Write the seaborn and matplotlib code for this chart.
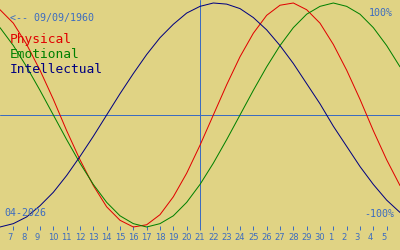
import matplotlib
matplotlib.use("Agg")
import matplotlib.pyplot as plt
from matplotlib.transforms import ScaledTranslation
import seaborn as sns
import pandas as pd

# ---- data ----
day_labels = ["7", "8", "9", "10", "11", "12", "13", "14", "15", "16", "17", "18",
              "19", "20", "21", "22", "23", "24", "25", "26", "27", "28", "29", "30",
              "1", "2", "3", "4", "5"]
physical = [0.94, 0.82, 0.63, 0.40, 0.14, -0.14, -0.40, -0.63, -0.82, -0.94, -1.00,
            -0.98, -0.89, -0.73, -0.52, -0.27, 0.00, 0.27, 0.52, 0.73, 0.89, 0.98,
            1.00, 0.94, 0.82, 0.63, 0.40, 0.14, -0.14, -0.40, -0.63]
emotional = [0.78, 0.62, 0.43, 0.22, 0.00, -0.22, -0.43, -0.62, -0.78, -0.90, -0.97,
             -1.00, -0.97, -0.90, -0.78, -0.62, -0.43, -0.22, 0.00, 0.22, 0.43, 0.62,
             0.78, 0.90, 0.97, 1.00, 0.97, 0.90, 0.78, 0.62, 0.43]
intellectual = [-1.00, -0.97, -0.91, -0.81, -0.69, -0.54, -0.37, -0.19, 0.00, 0.19,
                0.37, 0.54, 0.69, 0.81, 0.91, 0.97, 1.00, 0.99, 0.95, 0.87, 0.76,
                0.62, 0.46, 0.28, 0.10, -0.10, -0.28, -0.46, -0.62, -0.76, -0.87]
series_names = ["Physical", "Emotional", "Intellectual"]
today_label = "21"
birth_text = "<-- 09/09/1960"
month_text = "04-2026"
top_text = "100%"
bottom_text = "-100%"

# ---- style ----
BG = "#e0d384"
BLUE = "#3c6cc0"
COLORS = {"Physical": "#e00000", "Emotional": "#008000", "Intellectual": "#000080"}
PX = 72 / 100  # one pixel in points at dpi 100

sns.set_style("white", {"axes.facecolor": BG, "figure.facecolor": BG})
plt.rcParams["font.family"] = ["DejaVu Sans Mono", "DejaVu Sans"]

values = {"Physical": physical, "Emotional": emotional, "Intellectual": intellectual}
rows = []
for name in series_names:
    for i, v in enumerate(values[name]):
        rows.append({"day": i, "value": v, "series": name})
df = pd.DataFrame(rows)

W, H = 400, 250
fig = plt.figure(figsize=(4, 2.5), dpi=100)
bottom_px = 227.5
ax = fig.add_axes([0, 1 - bottom_px / H, 1, bottom_px / H])

# center line at pixel 115, amplitude 112 px
ax.set_ylim(-(bottom_px - 115) / 112, 115 / 112)
ax.set_xlim(0, len(physical) - 1)

ax.axhline(0, color=BLUE, lw=PX, zorder=1)
ticks = list(range(1, len(day_labels) + 1))
today_pos = ticks[day_labels.index(today_label)]
ax.axvline(today_pos, color=BLUE, lw=PX, zorder=1)

sns.lineplot(data=df, x="day", y="value", hue="series", palette=COLORS,
             hue_order=series_names, legend=False, lw=1.0 * PX, ax=ax,
             estimator=None, sort=False)
for ln in ax.get_lines():
    ln.set_clip_on(False)

for s in ax.spines.values():
    s.set_visible(False)
ax.set_xlabel("")
ax.set_ylabel("")
ax.set_yticks([])
ax.set_xticks(ticks, day_labels)
ax.tick_params(axis="x", direction="inout", length=5 * PX, width=PX, color=BLUE,
               labelcolor=BLUE, labelsize=6, pad=2.4, bottom=True)
for lbl in ax.get_xticklabels():
    lbl.set_fontfamily("DejaVu Sans")
    if len(lbl.get_text()) == 1:
        lbl.set_transform(lbl.get_transform() + ScaledTranslation(-3 / 100, 0, fig.dpi_scale_trans))


def ftext(x, y, s, **kw):
    fig.text(x / W, 1 - y / H, s, va="baseline", **kw)


ftext(10, 20.7, birth_text, color=BLUE, fontsize=7.2)
ftext(393, 16, top_text, color=BLUE, fontsize=7.2, ha="right")
ftext(394, 216.7, bottom_text, color=BLUE, fontsize=7.2, ha="right")
ftext(4.7, 216, month_text, color=BLUE, fontsize=7.2)
for i, name in enumerate(series_names):
    ftext(10, 42.7 + 15 * i, name, color=COLORS[name], fontsize=9.3)

fig.savefig("out.png", dpi=100, facecolor=BG)
